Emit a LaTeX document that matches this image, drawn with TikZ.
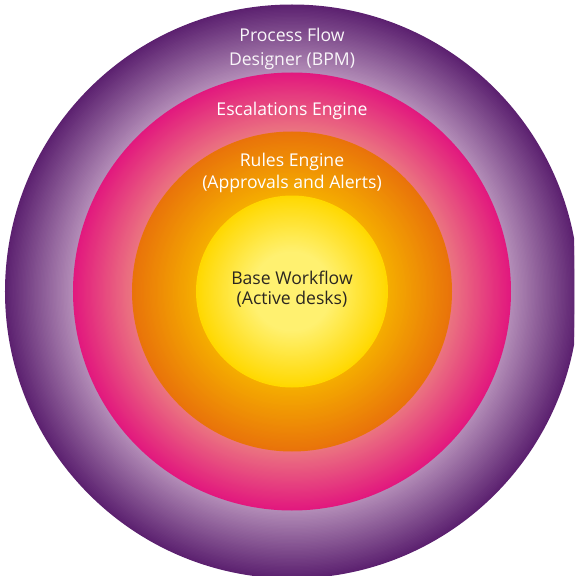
\documentclass[tikz,border=0pt]{standalone}
\usepackage{fontspec}
\setmainfont{Open Sans}
\usetikzlibrary{positioning}

\definecolor{bpmdark}{HTML}{5C2170}
\definecolor{bpmlight}{HTML}{B48EB8}
\definecolor{escdark}{HTML}{E2187E}
\definecolor{esclight}{HTML}{EB7680}
\definecolor{rulesdark}{HTML}{E9730A}
\definecolor{ruleslight}{HTML}{F5AE00}
\definecolor{basedark}{HTML}{FFD800}
\definecolor{baselight}{HTML}{FFF170}
\definecolor{basetext}{HTML}{2B2620}

\begin{document}
\begin{tikzpicture}[
  x=1pt,y=1pt,
  ring label/.style={
    align=center,
    inner sep=0,
    font=\fontsize{17.6}{24}\selectfont,
    text=white,
  },
  ]
  \useasboundingbox (-292,-284.5) rectangle (282,291.5);
  \clip (-292,-284.5) rectangle (282,291.5);
  \coordinate (centre) at (0,0);
  % rings, outside in: dark edge to light inner edge
  \foreach \rout/\rin/\cdark/\clight in {
      287/219/bpmdark/bpmlight,
      219/160/escdark/esclight,
      160/96/rulesdark/ruleslight,
      96/40/basedark/baselight}{
    \foreach \k in {0,...,50}{
      \pgfmathsetmacro\rad{\rout-(\rout-\rin)*\k/50}
      \pgfmathtruncatemacro\mix{2*\k}
      \fill[\clight!\mix!\cdark] (centre) circle (\rad);
    }
  }
  % labels
  \node[ring label,text=white!92!bpmlight] (label-bpm) at (0,243)
    {Process Flow\\Designer (BPM)};
  \node[ring label] (label-esc) at (0,181) {Escalations Engine};
  \node[ring label,font=\fontsize{17.6}{22.5}\selectfont] (label-rules) at (0,118.5)
    {Rules Engine\\(Approvals and Alerts)};
  \node[ring label,text=basetext,font=\fontsize{17.6}{20}\selectfont] (label-base) at (0,2.5)
    {Base Workflow\\(Active desks)};
\end{tikzpicture}
\end{document}
